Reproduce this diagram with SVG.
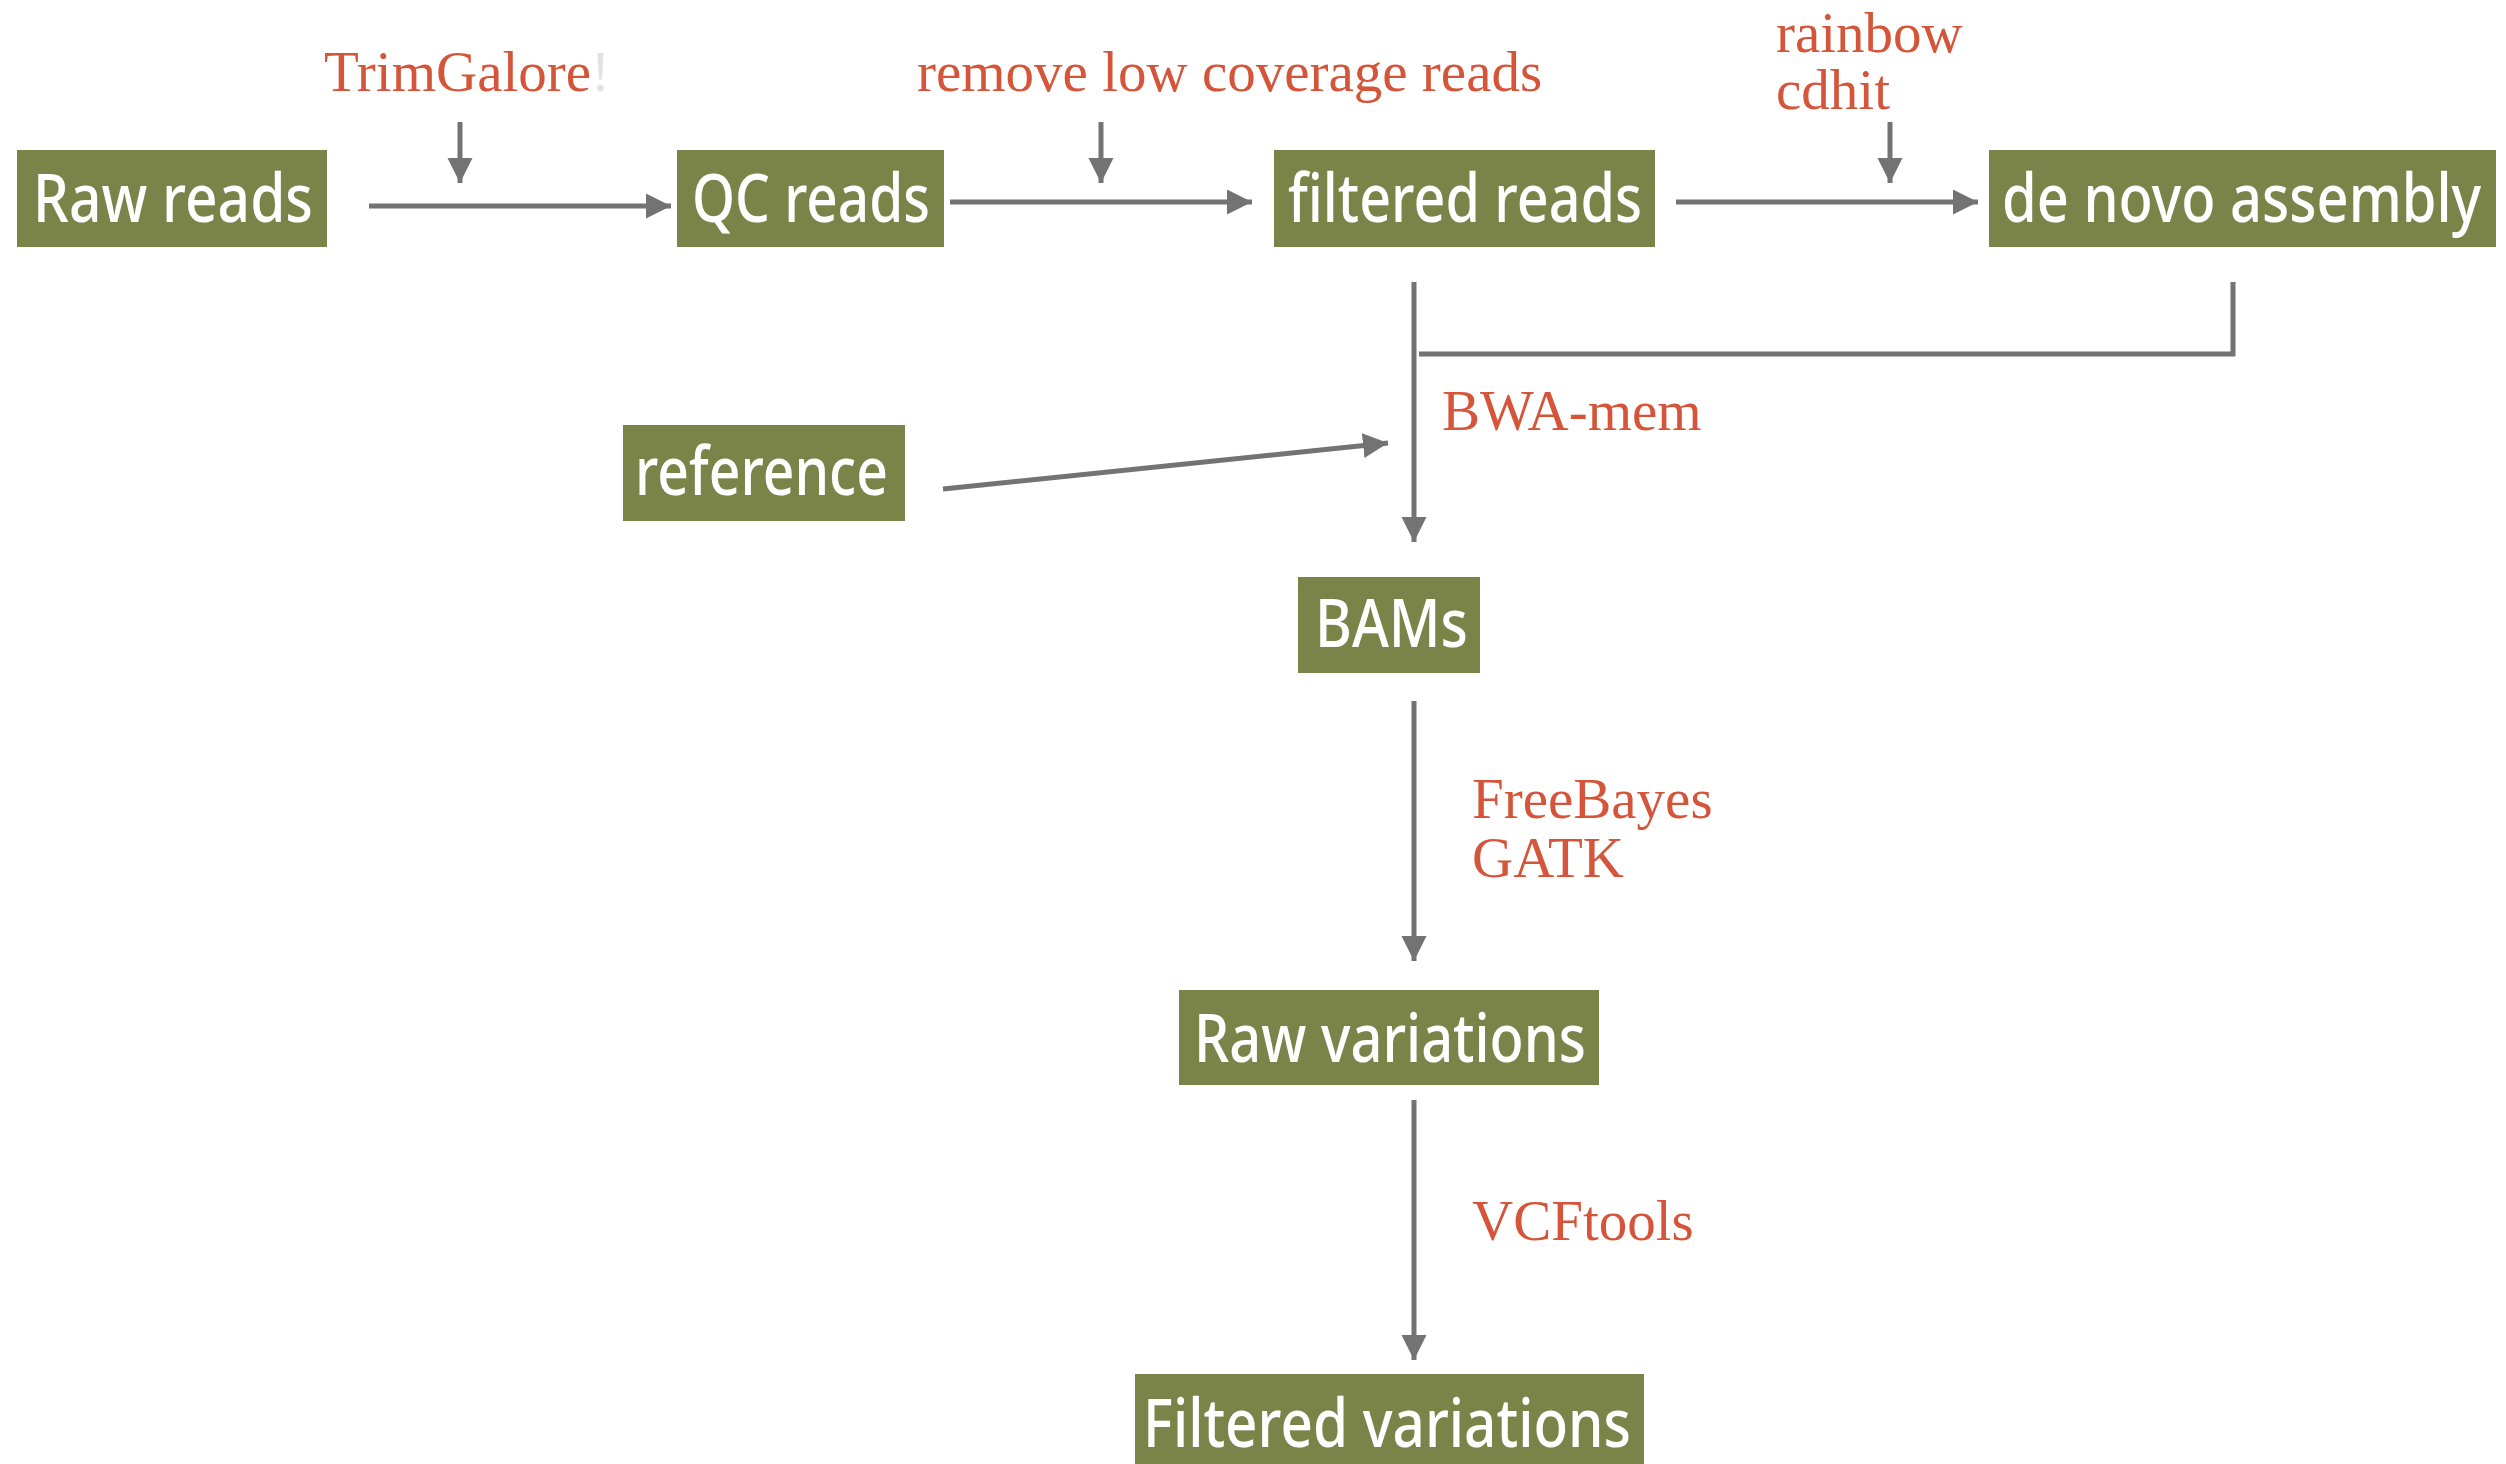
<svg xmlns="http://www.w3.org/2000/svg" width="2506" height="1464" viewBox="0 0 2506 1464">
  <style>
    .box { fill: #7A8449; }
    .lbl { font-family: "Noto Sans", "Open Sans", sans-serif; font-weight: 500; font-size: 68px; fill: #FFFFFF; }
    .tool { font-family: "Liberation Serif", "Times New Roman", serif; font-size: 57px; fill: #D4553A; }
    .ln { stroke: #737373; stroke-width: 5; fill: none; }
  </style>
  <defs>
    <marker id="arr" markerUnits="userSpaceOnUse" markerWidth="26" markerHeight="26" refX="25" refY="12.5" orient="auto">
      <path d="M0,0 L25,12.5 L0,25 z" fill="#737373"/>
    </marker>
  </defs>
  <rect width="2506" height="1464" fill="#FFFFFF"/>

  <g id="connectors">
    <line class="ln" x1="369" y1="206" x2="671" y2="206" marker-end="url(#arr)"/>
    <line class="ln" x1="460" y1="122" x2="460" y2="183" marker-end="url(#arr)"/>
    <line class="ln" x1="950" y1="202" x2="1252" y2="202" marker-end="url(#arr)"/>
    <line class="ln" x1="1101" y1="122" x2="1101" y2="183" marker-end="url(#arr)"/>
    <line class="ln" x1="1676" y1="202" x2="1978" y2="202" marker-end="url(#arr)"/>
    <line class="ln" x1="1890" y1="122" x2="1890" y2="183" marker-end="url(#arr)"/>
    <line class="ln" x1="1414" y1="282" x2="1414" y2="542" marker-end="url(#arr)"/>
    <polyline class="ln" points="2233,282 2233,354 1419,354"/>
    <line class="ln" x1="943" y1="489" x2="1388" y2="443" marker-end="url(#arr)"/>
    <line class="ln" x1="1414" y1="701" x2="1414" y2="961" marker-end="url(#arr)"/>
    <line class="ln" x1="1414" y1="1100" x2="1414" y2="1360" marker-end="url(#arr)"/>
  </g>

  <g id="tool-labels">
    <text class="tool" x="324" y="91">TrimGalore<tspan fill="#E2E2E2">!</tspan></text>
    <text class="tool" x="917" y="91">remove low coverage reads</text>
    <text class="tool" x="1776" y="52">rainbow</text>
    <text class="tool" x="1776" y="109">cdhit</text>
    <text class="tool" x="1442" y="430">BWA-mem</text>
    <text class="tool" x="1472" y="818">FreeBayes</text>
    <text class="tool" x="1472" y="877">GATK</text>
    <text class="tool" x="1472" y="1240">VCFtools</text>
  </g>

  <g id="raw-reads">
    <rect class="box" x="17" y="150" width="310" height="97"/>
    <text class="lbl" x="33" y="222" textLength="280" lengthAdjust="spacingAndGlyphs">Raw reads</text>
  </g>
  <g id="qc-reads">
    <rect class="box" x="677" y="150" width="267" height="97"/>
    <text class="lbl" x="692" y="222" textLength="238" lengthAdjust="spacingAndGlyphs">QC reads</text>
  </g>
  <g id="filtered-reads">
    <rect class="box" x="1274" y="150" width="381" height="97"/>
    <text class="lbl" x="1288" y="222" textLength="354" lengthAdjust="spacingAndGlyphs">filtered reads</text>
  </g>
  <g id="de-novo-assembly">
    <rect class="box" x="1989" y="150" width="507" height="97"/>
    <g transform="translate(2002,222) scale(0.8,1)">
      <text class="lbl" x="0" y="0" textLength="599" lengthAdjust="spacingAndGlyphs">de novo assembly</text>
    </g>
  </g>
  <g id="reference">
    <rect class="box" x="623" y="425" width="282" height="96"/>
    <text class="lbl" x="635" y="495" textLength="253" lengthAdjust="spacingAndGlyphs">reference</text>
  </g>
  <g id="bams">
    <rect class="box" x="1298" y="577" width="182" height="96"/>
    <text class="lbl" x="1315" y="647" textLength="153" lengthAdjust="spacingAndGlyphs">BAMs</text>
  </g>
  <g id="raw-variations">
    <rect class="box" x="1179" y="990" width="420" height="95"/>
    <text class="lbl" x="1194" y="1062" textLength="392" lengthAdjust="spacingAndGlyphs">Raw variations</text>
  </g>
  <g id="filtered-variations">
    <rect class="box" x="1135" y="1374" width="509" height="90"/>
    <text class="lbl" x="1143" y="1447" textLength="488" lengthAdjust="spacingAndGlyphs">Filtered variations</text>
  </g>
</svg>
